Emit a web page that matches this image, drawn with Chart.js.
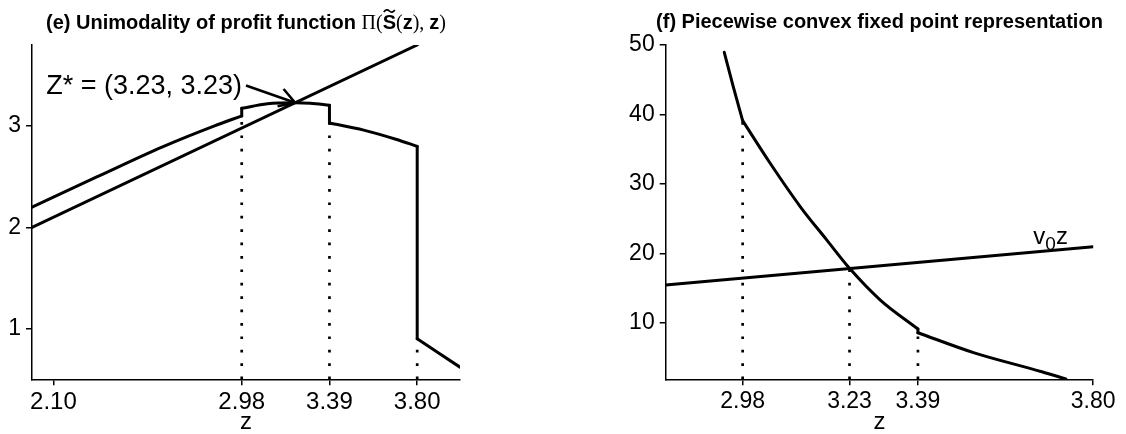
<!DOCTYPE html>
<html>
<head>
<meta charset="utf-8">
<script src="https://cdn.jsdelivr.net/npm/chart.js@4.4.1/dist/chart.umd.min.js"></script>
<style>
  html, body { margin: 0; padding: 0; background: #fff; }
  #wrap { position: relative; width: 1126px; height: 434px; }
  #wrap canvas { position: absolute; left: 0; top: 0; }
</style>
</head>
<body>
<div id="wrap">
  <canvas id="chartE" width="1126" height="434"></canvas>
  <canvas id="chartF" width="1126" height="434"></canvas>
</div>
<script>
// (e) profit function
const eTicksX = [2.10, 2.98, 3.39, 3.80];
const eTicksY = [1, 2, 3];
const diagZ = [2.0, 3.8];
const diagV = [2.0, 3.8];
const profitZ1 = [2.0, 2.3, 2.61, 2.85, 2.98];
const profitV1 = [2.20, 2.495, 2.795, 3.00, 3.10];
const profitZ2 = [2.98, 3.1, 3.23, 3.3, 3.39];
const profitV2 = [3.175, 3.22, 3.23, 3.225, 3.205];
const profitZ3 = [3.39, 3.55, 3.7, 3.8];
const profitV3 = [3.03, 2.96, 2.87, 2.80];
const profitZ4 = [3.8, 3.9, 4.0];
const profitV4 = [0.90, 0.76, 0.62];
const zStar = 3.23;
const arrowFrom = [3.0, 3.40];

// (f) fixed point representation
const fTicksX = [2.98, 3.23, 3.39, 3.80];
const fTicksY = [10, 20, 30, 40, 50];
const lineZ = [2.8, 3.8];
const lineV = [15.43, 20.94];
const fixZ1 = [2.937, 2.958, 2.98];
const fixV1 = [48.95, 44.0, 39.1];
const fixZ2 = [2.98, 3.044, 3.115, 3.177, 3.23, 3.302, 3.39];
const fixV2 = [39.1, 33.0, 26.7, 21.9, 17.84, 13.27, 9.1];
const fixZ3 = [3.39, 3.52, 3.68, 3.736];
const fixV3 = [8.56, 5.7, 2.94, 1.9];
const labelAt = [3.66, 21.4];

Chart.defaults.font.family = "'Liberation Sans', Arial, sans-serif";
Chart.defaults.color = '#000';

const pts = (zs, vs) => zs.map((z, i) => ({ x: z, y: vs[i] }));
const solid = (data, smooth) => ({
  data, showLine: true, borderColor: '#000', borderWidth: 3, pointRadius: 0,
  fill: false, borderCapStyle: 'round', tension: smooth ? 0.4 : 0,
  cubicInterpolationMode: smooth ? 'monotone' : 'default'
});
const dotted = (z, v0, v1) => ({
  data: [{ x: z, y: v0 }, { x: z, y: v1 }], showLine: true, borderColor: '#000',
  borderWidth: 2.7, borderDash: [2.7, 10.7], pointRadius: 0, fill: false
});

function axes(xMin, xMax, yMin, yMax, xt, yt, yWidth, xFont, yFont) {
  const grid = { drawOnChartArea: false, drawTicks: true, tickLength: 6, color: '#000', lineWidth: 1.5 };
  return {
    x: {
      type: 'linear', min: xMin, max: xMax, grid, border: { color: '#000', width: 1.5 },
      afterBuildTicks: s => { s.ticks = xt.map(v => ({ value: v })); },
      afterFit: s => { s.height = 54.7; },
      ticks: { autoSkip: false, maxRotation: 0, padding: 3, font: { size: xFont }, callback: v => v.toFixed(2) },
      title: { display: true, text: 'z', font: { size: 24, lineHeight: 1 }, padding: { top: 0, bottom: 0 } }
    },
    y: {
      type: 'linear', min: yMin, max: yMax, grid, border: { color: '#000', width: 1.5 },
      afterBuildTicks: s => { s.ticks = yt.map(v => ({ value: v })); },
      afterFit: s => { s.width = yWidth; },
      ticks: { autoSkip: false, padding: 5, font: { size: yFont }, callback: v => String(v) }
    }
  };
}

function drawParts(ctx, parts, cx, base) {
  ctx.save();
  ctx.textAlign = 'left';
  ctx.textBaseline = 'alphabetic';
  ctx.fillStyle = '#000';
  let total = 0;
  parts.forEach(p => { ctx.font = p.font; p.w = ctx.measureText(p.text).width; total += p.w; });
  let xx = cx - total / 2;
  parts.forEach(p => {
    ctx.font = p.font;
    ctx.fillText(p.text, xx, base + (p.dy || 0));
    if (p.tilde) {
      const c = xx + p.w / 2, t = base - 17.5;
      ctx.beginPath();
      ctx.lineWidth = 1.7;
      ctx.strokeStyle = '#000';
      ctx.moveTo(c - 5.5, t + 1);
      ctx.quadraticCurveTo(c - 2.7, t - 2.7, c, t);
      ctx.quadraticCurveTo(c + 2.7, t + 2.7, c + 5.5, t - 1);
      ctx.stroke();
    }
    xx += p.w;
  });
  ctx.restore();
}

const B = "bold 20px 'Liberation Sans'";
const S = "20px 'Liberation Serif'";
const titleE = [
  { text: '(e) Unimodality of profit function ', font: B },
  { text: '\u03A0(', font: S },
  { text: 'S', font: B, tilde: true },
  { text: '(', font: S },
  { text: 'z', font: B },
  { text: '), ', font: S },
  { text: 'z', font: B },
  { text: ')', font: S }
];

const decorE = {
  id: 'decorE',
  afterDraw(chart) {
    const { ctx, chartArea, scales: { x, y } } = chart;
    drawParts(ctx, titleE, (chartArea.left + chartArea.right) / 2, 28.5);
    const sx = x.getPixelForValue(arrowFrom[0]), sy = y.getPixelForValue(arrowFrom[1]);
    const tx = x.getPixelForValue(zStar), ty = y.getPixelForValue(zStar);
    ctx.save();
    ctx.strokeStyle = '#000';
    ctx.lineWidth = 2.6;
    ctx.beginPath();
    ctx.moveTo(sx, sy);
    ctx.lineTo(tx, ty);
    const a = Math.atan2(sy - ty, sx - tx);
    [-0.53, 0.53].forEach(d => {
      ctx.moveTo(tx, ty);
      ctx.lineTo(tx + 18 * Math.cos(a + d), ty + 18 * Math.sin(a + d));
    });
    ctx.stroke();
    ctx.fillStyle = '#000';
    ctx.font = "27px 'Liberation Sans'";
    ctx.textAlign = 'right';
    ctx.textBaseline = 'alphabetic';
    ctx.fillText('Z* = (' + zStar.toFixed(2) + ', ' + zStar.toFixed(2) + ')', sx - 4, sy + 8.5);
    ctx.restore();
  }
};

const decorF = {
  id: 'decorF',
  afterDraw(chart) {
    const { ctx, chartArea, scales: { x, y } } = chart;
    drawParts(ctx, [{ text: '(f) Piecewise convex fixed point representation', font: B }],
      (chartArea.left + chartArea.right) / 2, 28);
    const lx = x.getPixelForValue(labelAt[0]), ly = y.getPixelForValue(labelAt[1]);
    ctx.save();
    ctx.fillStyle = '#000';
    ctx.textAlign = 'left';
    ctx.textBaseline = 'alphabetic';
    ctx.font = "24px 'Liberation Sans'";
    ctx.fillText('v', lx, ly);
    let w = ctx.measureText('v').width;
    ctx.font = "19px 'Liberation Sans'";
    ctx.fillText('0', lx + w, ly + 6);
    w += ctx.measureText('0').width;
    ctx.font = "24px 'Liberation Sans'";
    ctx.fillText('z', lx + w, ly);
    ctx.restore();
  }
};

new Chart(document.getElementById('chartE'), {
  type: 'scatter',
  data: {
    datasets: [
      solid(pts(diagZ, diagV), false),
      solid(pts(profitZ1, profitV1), true),
      solid(pts(profitZ2, profitV2), true),
      solid(pts(profitZ3, profitV3), true),
      solid(pts(profitZ4, profitV4), true),
      solid([{ x: profitZ1.at(-1), y: profitV1.at(-1) }, { x: profitZ2[0], y: profitV2[0] }], false),
      solid([{ x: profitZ2.at(-1), y: profitV2.at(-1) }, { x: profitZ3[0], y: profitV3[0] }], false),
      solid([{ x: profitZ3.at(-1), y: profitV3.at(-1) }, { x: profitZ4[0], y: profitV4[0] }], false),
      dotted(eTicksX[1], 0.5, profitV1.at(-1)),
      dotted(eTicksX[2], 0.5, profitV3[0]),
      dotted(eTicksX[3], 0.5, profitV4[0])
    ]
  },
  options: {
    responsive: false,
    animation: false,
    layout: { padding: { left: 0, right: 666, top: 45, bottom: 0 } },
    plugins: { legend: { display: false }, tooltip: { enabled: false } },
    scales: axes(2.0, 4.0, 0.5, 3.8, eTicksX, eTicksY, 32, 24, 23)
  },
  plugins: [decorE]
});

new Chart(document.getElementById('chartF'), {
  type: 'scatter',
  data: {
    datasets: [
      solid(pts(lineZ, lineV), false),
      solid(pts(fixZ1, fixV1), true),
      solid(pts(fixZ2, fixV2), true),
      solid(pts(fixZ3, fixV3), true),
      solid([{ x: fixZ2.at(-1), y: fixV2.at(-1) }, { x: fixZ3[0], y: fixV3[0] }], false),
      dotted(fTicksX[0], 1.85, fixV2[0]),
      dotted(fTicksX[1], 1.85, fixV2[4]),
      dotted(fTicksX[2], 1.85, fixV3[0])
    ]
  },
  options: {
    responsive: false,
    animation: false,
    events: [],
    layout: { padding: { left: 560, right: 32.8, top: 45, bottom: 0 } },
    plugins: { legend: { display: false }, tooltip: { enabled: false } },
    scales: axes(2.8, 3.8, 1.85, 50, fTicksX, fTicksY, 105.7, 23, 23)
  },
  plugins: [decorF]
});
</script>
</body>
</html>
